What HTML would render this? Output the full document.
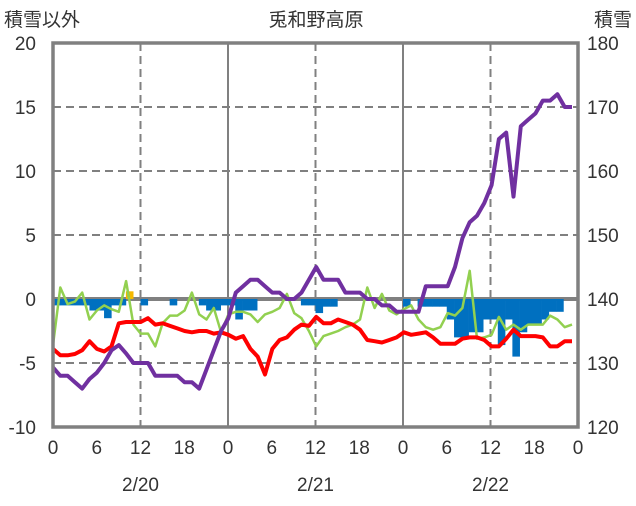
<!DOCTYPE html>
<html><head><meta charset="utf-8"><style>
body{margin:0;background:#fff;}
svg text{font-family:"Liberation Sans","Noto Sans CJK JP",sans-serif;fill:#333;}
</style></head><body>
<svg id="chart" width="636" height="501" xmlns="http://www.w3.org/2000/svg">
<g id="grid"></g><g id="bars"></g><g id="lines"></g><g id="axes"></g>
</svg>
<script>
const hoursTicks=[0,6,12,18,0,6,12,18,0,6,12,18,0];
const dateLabels=["2/20","2/21","2/22"];
const leftTicks=[20,15,10,5,0,-5,-10];
const rightTicks=[180,170,160,150,140,130,120];
const snowDepth=[129.3,128,128,127,126,127.5,128.5,130,132,132.8,131.5,130,130,130,128,128,128,128,127,127,126,129,132,135,137,141,142,143,143,142,141,141,140,140,141,143,145,143,143,143,141,141,141,140,140,139,139,138,138,138,138,142,142,142,142,145,149.5,152,153,155,157.8,165,166,156,167,168,169,171,171,172,170,170];
const temperature=[-3.9,-4.4,-4.4,-4.3,-4,-3.3,-3.9,-4.1,-3.7,-1.9,-1.8,-1.8,-1.8,-1.5,-2,-1.9,-2.1,-2.3,-2.5,-2.6,-2.5,-2.5,-2.7,-2.6,-2.8,-3.1,-2.9,-3.9,-4.5,-5.9,-3.9,-3.2,-3,-2.4,-2,-2.1,-1.4,-1.9,-1.9,-1.6,-1.8,-2,-2.4,-3.2,-3.3,-3.4,-3.2,-3,-2.6,-2.8,-2.7,-2.6,-3,-3.5,-3.5,-3.5,-3.1,-3,-3,-3.2,-3.7,-3.7,-3.1,-2.4,-2.9,-2.9,-2.9,-3,-3.7,-3.7,-3.3,-3.3];
const greenSeries=[-3.6,0.9,-0.4,-0.2,0.5,-1.6,-0.9,-0.5,-0.8,-1,1.4,-2,-2.7,-2.7,-3.7,-1.9,-1.3,-1.3,-0.9,0.5,-1.2,-1.6,-0.7,-2.6,-1.2,-1,-1,-1.2,-1.8,-1.2,-1,-0.7,0.4,-1.1,-1.5,-2.5,-3.7,-2.9,-2.7,-2.5,-2.2,-2,-1.6,0.9,-0.7,0.4,-0.9,-1.2,-0.8,-0.5,-1.6,-2.2,-2.4,-2.2,-1.1,-1.3,-0.7,2.2,-3.1,-3,-2.8,-1.4,-2.4,-2,-2.4,-2,-2,-2,-1.3,-1.6,-2.2,-2];
const barValues=[-0.5,-0.5,-0.5,-0.5,-0.5,-0.9,-0.9,-1.5,-0.5,-0.5,0.6,0,-0.5,0,0,0,-0.5,0,0,0,-0.5,-0.9,-0.9,-0.5,-0.5,-1.6,-0.9,-0.9,0,0,0,0,0,0,-0.5,-0.5,-1.1,-0.6,-0.6,0,0,0,0,0,0,0,0,0,-0.6,0,-0.6,-0.6,-0.6,-0.6,-1.6,-3,-3,-2.6,-2.6,-1.6,-1.6,-3.6,-1.6,-4.5,-2.6,-2,-2,-1.6,-1,-1,0,0];

const X0=53,X1=578,Y0=43,Y1=427,N=72;
const hw=(X1-X0)/N;
const xb=i=>X0+hw*i;
const xp=i=>X0+7.31*i;
const yL=v=>Y0+(20-v)*(Y1-Y0)/30;
const yR=v=>Y0+(180-v)*(Y1-Y0)/60;
const NS="http://www.w3.org/2000/svg";
function mk(tag,attrs,parent,txt){const e=document.createElementNS(NS,tag);for(const k in attrs)e.setAttribute(k,attrs[k]);if(txt!==undefined)e.textContent=txt;document.getElementById(parent).appendChild(e);return e;}

leftTicks.forEach(v=>{
  if(v===20||v===-10)return;
  const l=mk('line',{x1:X0,x2:X1,y1:yL(v),y2:yL(v),stroke:'#808080','stroke-width':v===0?4:2,'stroke-dasharray':v===0?'none':'8,5'},'grid');
  
  
});
for(let h=12;h<72;h+=12){
  const solid=h%24===0;
  const l=mk('line',{x1:xb(h),x2:xb(h),y1:Y0,y2:Y1,stroke:'#808080','stroke-width':2,'stroke-dasharray':solid?'none':'8,5'},'grid');
  
  
}
barValues.forEach((v,i)=>{
  if(v===0)return;
  const y=Math.min(yL(0),yL(v)),h=Math.abs(yL(v)-yL(0));
  const r=mk('rect',{x:xb(i),y:y,width:hw+0.3,height:h,fill:v>0?'#f5b800':'#0070c0'},'bars');
  
  
});
function line(arr,yf,color,w,name){
  const p=arr.map((v,i)=>(i?'L':'M')+xp(i).toFixed(1)+','+yf(v).toFixed(1)).join('');
  const e=mk('path',{d:p,fill:'none',stroke:color,'stroke-width':w,'stroke-linejoin':'round'},'lines');
  
  
}
line(greenSeries,yL,'#92d050',2.5,'green-line');
line(temperature,yL,'#ff0000',4,'temperature-line');
line(snowDepth,yR,'#7030a0',4,'snow-depth-line');
const b=mk('rect',{x:X0,y:Y0,width:X1-X0,height:Y1-Y0,fill:'none',stroke:'#808080','stroke-width':3.5},'axes');


leftTicks.forEach(v=>{
  const t=mk('text',{x:36,y:yL(v)+7,'text-anchor':'end','font-size':19},'axes',String(v));
  
  
});
rightTicks.forEach(v=>{
  const t=mk('text',{x:587,y:yR(v)+7,'font-size':19},'axes',String(v));
  
  
});
hoursTicks.forEach((v,i)=>{
  const t=mk('text',{x:xb(i*6),y:454,'text-anchor':'middle','font-size':19},'axes',String(v));
  
  
});
dateLabels.forEach((d,i)=>{
  const t=mk('text',{x:xb(12+24*i),y:491,'text-anchor':'middle','font-size':19},'axes',d);
  
  
});
const t1=mk('text',{x:316,y:26,'text-anchor':'middle','font-size':19},'axes','兎和野高原');


const t2=mk('text',{x:4,y:26,'font-size':19},'axes','積雪以外');


const t3=mk('text',{x:632,y:26,'text-anchor':'end','font-size':19},'axes','積雪');


</script>
</body></html>
